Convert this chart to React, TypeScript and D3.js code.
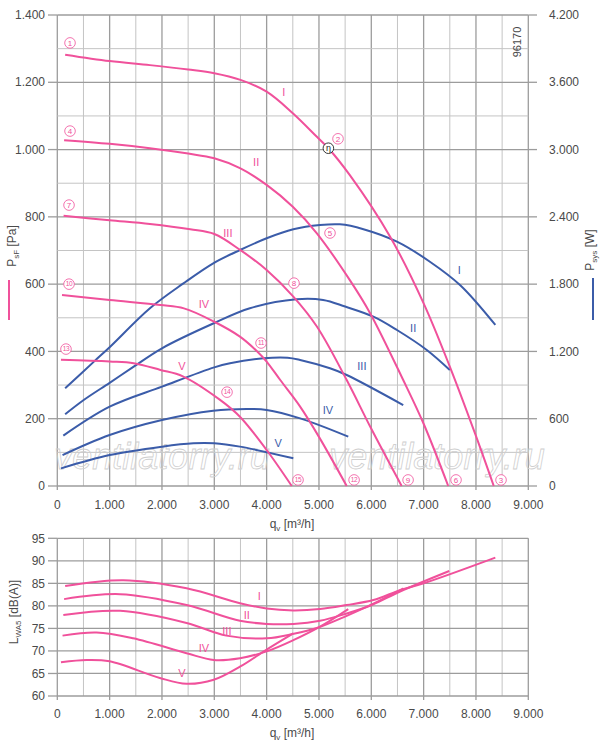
import React, { useEffect, useRef } from 'react';
import * as d3 from 'd3';

// flow axis [m3/h]
const flowTicks = d3.range(0, 9001, 500);
const pressTicks = d3.range(0, 1401, 100);
const powerTicks = d3.range(0, 4201, 600);
const noiseTicks = d3.range(60, 96, 5);

// static pressure curves P_sF [Pa]
const pressI = [[150, 1282], [1000, 1263], [1770, 1251], [2500, 1238], [3000, 1227], [3500, 1207], [4000, 1172], [4500, 1108], [4960, 1038], [5180, 1004], [5590, 924], [6360, 741], [7000, 543], [7500, 355], [7980, 157], [8340, 0]];
const pressII = [[130, 1028], [1000, 1017], [1770, 1004], [2500, 988], [3000, 974], [3500, 944], [4000, 895], [4500, 830], [4960, 751], [5590, 612], [5980, 513], [6610, 315], [7000, 185], [7470, 0]];
const pressIII = [[120, 803], [1000, 790], [1770, 779], [2540, 763], [3000, 749], [3500, 701], [4000, 642], [4510, 563], [4960, 474], [5530, 315], [6000, 170], [6580, 0]];
const pressIV = [[90, 568], [1000, 553], [1970, 538], [2420, 528], [2990, 489], [3490, 444], [3820, 400], [4000, 370], [4260, 315], [4640, 236], [5000, 146], [5530, 0]];
const pressV = [[70, 375], [1000, 370], [1460, 365], [1970, 345], [2400, 326], [3110, 256], [3490, 206], [4000, 107], [4480, 0]];

// power curves P_sys [W]
const powerI = [[150, 871], [700, 1109], [1010, 1242], [1770, 1585], [2410, 1807], [2980, 1986], [3490, 2104], [4000, 2209], [4510, 2289], [5020, 2327], [5400, 2333], [5850, 2290], [6490, 2179], [7120, 2000], [7700, 1790], [8370, 1436]];
const powerII = [[150, 640], [505, 767], [1000, 920], [1460, 1064], [2000, 1228], [2990, 1451], [3680, 1585], [4570, 1665], [5080, 1659], [5500, 1600], [6040, 1510], [6490, 1391], [7060, 1213], [7500, 1034]];
const powerIII = [[115, 449], [1000, 707], [2000, 886], [3000, 1058], [3300, 1094], [3940, 1139], [4400, 1144], [4640, 1124], [5210, 1050], [5530, 990], [6610, 722]];
const powerIV = [[100, 276], [1000, 455], [2000, 589], [2980, 672], [3620, 687], [4000, 678], [4640, 603], [5560, 440]];
const powerV = [[70, 157], [1000, 276], [2000, 351], [2600, 381], [3000, 381], [3490, 351], [4510, 247]];

// sound power L_WA5 [dB(A)]
const noiseI = [[150, 84.4], [1260, 85.7], [2470, 83.9], [3490, 80.6], [4000, 79.4], [4510, 79.0], [5020, 79.3], [5530, 80.2], [6040, 81.3], [6550, 83.5], [7000, 85.0], [8370, 90.7]];
const noiseII = [[130, 81.5], [1200, 82.6], [2470, 80.2], [3490, 76.7], [4000, 76.0], [4510, 76.0], [5020, 76.7], [5500, 78.2], [6010, 80.2], [6550, 83.2], [7490, 87.75]];
const noiseIII = [[115, 78.0], [1200, 78.9], [2470, 76.2], [3230, 73.4], [4000, 72.8], [4510, 73.8], [4960, 75.1], [5530, 77.8], [6040, 80.5], [6615, 83.9]];
const noiseIV = [[100, 73.4], [750, 74.1], [1450, 72.8], [2470, 69.5], [2990, 68.0], [3490, 68.4], [4000, 69.9], [4510, 72.4], [5020, 75.4], [5560, 79.3]];
const noiseV = [[70, 67.5], [560, 68.0], [1000, 67.7], [1960, 64.0], [2470, 62.7], [2990, 63.6], [3490, 66.5], [4000, 70.3], [4510, 73.9]];

const speedNames = ['I', 'II', 'III', 'IV', 'V'];
const pressCurves = [pressI, pressII, pressIII, pressIV, pressV];
const powerCurves = [powerI, powerII, powerIII, powerIV, powerV];
const noiseCurves = [noiseI, noiseII, noiseIII, noiseIV, noiseV];

// label anchors in data units
const pressNameAt = [[4330, 1171], [3800, 963], [3260, 752], [2800, 541], [2380, 357]];
const powerNameAt = [[7680, 1926], [6800, 1409], [5820, 1070], [5170, 678], [4220, 383]];
const noiseNameAt = [[3860, 82.2], [3620, 78.0], [3240, 74.5], [2800, 70.7], [2380, 65.0]];
const pointNumbers = [['1', 243, 1317], ['4', 243, 1055], ['7', 224, 835], ['10', 224, 600], ['13', 166, 407],
  ['2', 5364, 1032], ['5', 5211, 752], ['8', 4523, 603], ['11', 3893, 425], ['14', 3243, 279],
  ['3', 8479, 18], ['6', 7619, 18], ['9', 6703, 18], ['12', 5671, 18], ['15', 4600, 18]];
const etaAt = [5180, 1004];

const PINK = '#f0519b';
const BLUE = '#3b5ca9';
const TXT = '#4a4a4a';
const FONT = '"Liberation Sans", Arial, sans-serif';

const fmt = d3.formatLocale({ decimal: ',', thousands: '.', grouping: [3], currency: ['', ''] }).format(',');

const App: React.FC = () => {
  const ref = useRef<SVGSVGElement | null>(null);

  useEffect(() => {
    if (!ref.current) return;
    const svg = d3.select(ref.current);
    svg.selectAll('*').remove();
    svg.style('font-family', FONT);

    const x = d3.scaleLinear().domain([0, 9000]).range([57.3, 528.3]);
    const yP = d3.scaleLinear().domain([0, 1400]).range([486, 15]);
    const yW = d3.scaleLinear().domain([0, 4200]).range([486, 15]);
    const yN = d3.scaleLinear().domain([60, 95]).range([696, 538.3]);

    const grid = (g: any, yScale: any, yVals: number[], yMajor: (v: number) => boolean) => {
      const [y0, y1] = yScale.range();
      g.selectAll('line.v').data(flowTicks).enter().append('line')
        .attr('x1', (d: number) => x(d)).attr('x2', (d: number) => x(d))
        .attr('y1', y0).attr('y2', y1)
        .attr('stroke', (d: number) => d % 1000 === 0 ? '#9c9c9c' : '#c4c4c4')
        .attr('stroke-width', (d: number) => d % 1000 === 0 ? 1.3 : 1);
      g.selectAll('line.h').data(yVals).enter().append('line')
        .attr('x1', x(0)).attr('x2', x(9000))
        .attr('y1', (d: number) => yScale(d)).attr('y2', (d: number) => yScale(d))
        .attr('stroke', (d: number) => yMajor(d) ? '#9c9c9c' : '#c4c4c4')
        .attr('stroke-width', (d: number) => yMajor(d) ? 1.3 : 1);
      g.selectAll('line.t').data(yVals.filter(yMajor)).enter().append('line')
        .attr('x1', 48).attr('x2', x(0))
        .attr('y1', (d: number) => yScale(d)).attr('y2', (d: number) => yScale(d))
        .attr('stroke', '#9c9c9c').attr('stroke-width', 1.3);
      g.selectAll('line.b').data(flowTicks.filter(d => d % 1000 === 0)).enter().append('line')
        .attr('x1', (d: number) => x(d)).attr('x2', (d: number) => x(d))
        .attr('y1', y0).attr('y2', y0 + 4)
        .attr('stroke', '#9c9c9c').attr('stroke-width', 1.3);
    };

    // ---------- top chart ----------
    const top = svg.append('g');
    grid(top, yP, pressTicks, d => d % 200 === 0);
    top.selectAll('line.r').data(powerTicks).enter().append('line')
      .attr('x1', x(9000)).attr('x2', 537)
      .attr('y1', d => yW(d)).attr('y2', d => yW(d))
      .attr('stroke', '#9c9c9c').attr('stroke-width', 1.3);

    top.selectAll('text.yl').data(pressTicks.filter(d => d % 200 === 0)).enter().append('text')
      .attr('x', 45).attr('y', d => yP(d)).attr('dy', '0.35em')
      .attr('text-anchor', 'end').attr('font-size', 12).attr('fill', TXT)
      .text(d => fmt(d));
    top.selectAll('text.yr').data(powerTicks).enter().append('text')
      .attr('x', 549).attr('y', d => yW(d)).attr('dy', '0.35em')
      .attr('font-size', 12).attr('fill', TXT)
      .text(d => fmt(d));
    top.selectAll('text.xl').data(flowTicks.filter(d => d % 1000 === 0)).enter().append('text')
      .attr('x', d => x(d)).attr('y', 509)
      .attr('text-anchor', 'middle').attr('font-size', 12).attr('fill', TXT)
      .text(d => fmt(d));

    // watermark
    [162, 437].forEach(cx => {
      top.append('text')
        .attr('x', cx).attr('y', 469).attr('text-anchor', 'middle')
        .attr('font-size', 36).attr('font-style', 'italic')
        .attr('fill', 'none').attr('stroke', '#cfcfcf').attr('stroke-width', 0.8)
        .text('ventilatorry.ru');
    });

    const line = (yScale: any) => d3.line<number[]>()
      .x(d => x(d[0])).y(d => yScale(d[1]))
      .curve(d3.curveCatmullRom.alpha(0.5));

    top.selectAll('path.pw').data(powerCurves).enter().append('path')
      .attr('d', d => line(yW)(d) as string)
      .attr('fill', 'none').attr('stroke', BLUE).attr('stroke-width', 2);
    top.selectAll('path.pr').data(pressCurves).enter().append('path')
      .attr('d', d => line(yP)(d) as string)
      .attr('fill', 'none').attr('stroke', PINK).attr('stroke-width', 2);

    top.selectAll('text.pn').data(pressNameAt).enter().append('text')
      .attr('x', d => x(d[0])).attr('y', d => yP(d[1])).attr('dy', '0.35em')
      .attr('text-anchor', 'middle').attr('font-size', 11).attr('fill', PINK)
      .text((_, i) => speedNames[i]);
    top.selectAll('text.wn').data(powerNameAt).enter().append('text')
      .attr('x', d => x(d[0])).attr('y', d => yW(d[1])).attr('dy', '0.35em')
      .attr('text-anchor', 'middle').attr('font-size', 11).attr('fill', BLUE)
      .text((_, i) => speedNames[i]);

    const nums = top.selectAll('g.num').data(pointNumbers).enter().append('g')
      .attr('transform', d => `translate(${x(d[1] as number)},${yP(d[2] as number)})`);
    nums.append('circle').attr('r', 5.3).attr('fill', 'white')
      .attr('stroke', PINK).attr('stroke-width', 0.8);
    nums.append('text').attr('text-anchor', 'middle').attr('dy', '0.35em')
      .attr('font-size', d => (d[0] as string).length > 1 ? 6.5 : 8).attr('fill', PINK)
      .attr('letter-spacing', d => (d[0] as string).length > 1 ? -0.4 : 0)
      .text(d => d[0] as string);

    const eta = top.append('g').attr('transform', `translate(${x(etaAt[0])},${yP(etaAt[1])})`);
    eta.append('circle').attr('r', 5.3).attr('fill', 'white').attr('stroke', '#222').attr('stroke-width', 0.9);
    eta.append('text').attr('text-anchor', 'middle').attr('dy', '0.3em')
      .attr('font-size', 9).attr('fill', '#222').text('η');

    top.append('text').attr('transform', 'translate(521,42) rotate(-90)')
      .attr('text-anchor', 'middle').attr('font-size', 11).attr('fill', TXT).text('96170');

    // axis titles
    const title = (g: any, tx: number, ty: number, rot: boolean, main: string, sub: string, rest: string) => {
      const t = g.append('text')
        .attr('transform', `translate(${tx},${ty})${rot ? ' rotate(-90)' : ''}`)
        .attr('text-anchor', 'middle').attr('font-size', 12).attr('fill', TXT);
      t.append('tspan').text(main);
      t.append('tspan').attr('font-size', 8).attr('dy', 3).text(sub);
      t.append('tspan').attr('dy', -3).text(rest);
      return t;
    };
    title(top, 16, 246, true, 'P', 'sF', ' [Pa]');
    title(top, 594, 250, true, 'P', 'sys', ' [W]');
    title(top, 292, 528, false, 'q', 'v', ' [m³/h]');
    top.append('line').attr('x1', 9).attr('x2', 9).attr('y1', 280).attr('y2', 320)
      .attr('stroke', PINK).attr('stroke-width', 2);
    top.append('line').attr('x1', 593).attr('x2', 593).attr('y1', 278).attr('y2', 320)
      .attr('stroke', BLUE).attr('stroke-width', 2);

    // ---------- bottom chart ----------
    const bot = svg.append('g');
    grid(bot, yN, noiseTicks, () => true);
    bot.selectAll('text.yl').data(noiseTicks).enter().append('text')
      .attr('x', 45).attr('y', d => yN(d)).attr('dy', '0.35em')
      .attr('text-anchor', 'end').attr('font-size', 12).attr('fill', TXT)
      .text(d => d);
    bot.selectAll('text.xl').data(flowTicks.filter(d => d % 1000 === 0)).enter().append('text')
      .attr('x', d => x(d)).attr('y', 718)
      .attr('text-anchor', 'middle').attr('font-size', 12).attr('fill', TXT)
      .text(d => fmt(d));
    bot.selectAll('path.nz').data(noiseCurves).enter().append('path')
      .attr('d', d => line(yN)(d) as string)
      .attr('fill', 'none').attr('stroke', PINK).attr('stroke-width', 2);
    bot.selectAll('text.nn').data(noiseNameAt).enter().append('text')
      .attr('x', d => x(d[0])).attr('y', d => yN(d[1])).attr('dy', '0.35em')
      .attr('text-anchor', 'middle').attr('font-size', 11).attr('fill', PINK)
      .text((_, i) => speedNames[i]);
    title(bot, 18, 612, true, 'L', 'WA5', ' [dB(A)]');
    title(bot, 292, 737, false, 'q', 'v', ' [m³/h]');
  }, []);

  return (
    <svg ref={ref} width={600} height={747}
      style={{ position: 'absolute', left: 0, top: 0, background: 'white' }} />
  );
};

export default App;
